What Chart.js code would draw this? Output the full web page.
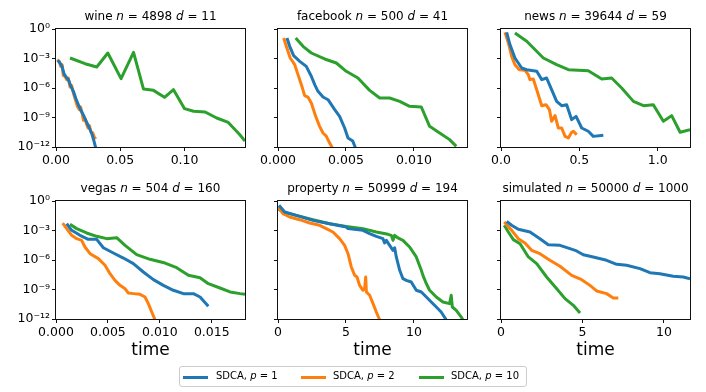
<!DOCTYPE html>
<html><head><meta charset="utf-8">
<script src="https://cdn.jsdelivr.net/npm/chart.js@4/dist/chart.umd.min.js"></script>
<style>
body{margin:0;width:706px;height:392px;background:#fff;position:relative;overflow:hidden;font-family:"DejaVu Sans",sans-serif;color:#000}
canvas{position:absolute}
.title{position:absolute;font-size:12px;line-height:14px;text-align:center;white-space:nowrap}
.xl{position:absolute;font-size:17px;line-height:20px;text-align:center}
#legend{position:absolute;left:179px;top:366px;width:346px;height:19px;border:1px solid #ccc;border-radius:3px;font-size:10px}
.sw{position:absolute;height:3px;width:25px;top:9px}
.lt{position:absolute;top:3px;line-height:12px;white-space:nowrap}
</style></head><body>
<script>
// ---------- data (time values, log10 of error values) ----------
const wineBlueT  = [0.0013,0.0031,0.0047,0.0062,0.0078,0.0096,0.0114,0.0135,0.0156,0.0177,0.0197,0.0218,0.0239,0.026,0.0281,0.0296,0.0309];
const wineBlueV  = [-3.19,-3.46,-3.8,-4.54,-4.88,-5.15,-5.76,-6.34,-7.12,-7.8,-8.37,-8.88,-9.49,-10.07,-10.75,-11.42,-12.1];
const wineOrangeT = [0.001,0.0026,0.0036,0.0047,0.0057,0.007,0.0083,0.0096,0.0109,0.0122,0.0135,0.0151,0.0166,0.0182,0.0192,0.0203,0.0213,0.0226,0.0239,0.0249,0.026,0.027,0.0286,0.0301,0.0312];
const wineOrangeV = [-3.12,-3.29,-3.8,-3.63,-4.75,-4.81,-5.15,-4.98,-5.9,-5.76,-6.51,-7.19,-7.86,-8.2,-7.93,-8.54,-9.29,-9.15,-9.73,-10.07,-9.83,-10.41,-10.58,-11.08,-10.98];
const wineGreenT = [0.0109,0.0226,0.0317,0.0403,0.0506,0.0603,0.068,0.0758,0.0844,0.0914,0.1,0.107,0.116,0.125,0.134,0.143,0.147];
const wineGreenV = [-2.95,-3.53,-3.86,-2.44,-5.05,-2.37,-6.1,-6.24,-6.95,-6.17,-8.1,-8.37,-8.44,-9.05,-9.5,-10.75,-11.4];

const fbBlueT = [0.00066,0.00086,0.00115,0.0016,0.00208,0.00245,0.0027,0.00294,0.00331,0.00368,0.00417,0.00453,0.0049,0.00515,0.0055,0.0057];
const fbBlueV = [-0.92,-1.76,-2.71,-3.29,-3.8,-4.81,-5.66,-6.34,-6.92,-7.19,-8.2,-8.88,-10.07,-11.08,-11.4,-12.1];
const fbOrangeT = [0.00042,0.00061,0.0009,0.00123,0.00147,0.00172,0.00196,0.0022,0.00245,0.00277,0.00306,0.00331,0.00355,0.0038,0.004];
const fbOrangeV = [-0.92,-1.76,-2.95,-3.63,-4.64,-5.66,-6.78,-6.92,-7.53,-8.88,-9.9,-10.58,-10.9,-11.6,-12.1];
const fbGreenT = [0.0013,0.00184,0.00245,0.00343,0.00429,0.00502,0.00588,0.00674,0.00748,0.00821,0.00895,0.00968,0.01054,0.01115,0.01189,0.01262,0.01311];
const fbGreenV = [-0.92,-1.76,-2.44,-3.05,-3.46,-4.3,-4.98,-6.24,-7.02,-7.02,-7.36,-7.86,-7.93,-9.9,-10.58,-11.25,-11.93];

const newsBlueT = [0.036,0.057,0.089,0.132,0.164,0.228,0.26,0.291,0.323,0.355,0.387,0.419,0.451,0.479,0.515,0.557,0.589,0.653];
const newsBlueV = [-0.34,-1.59,-2.95,-3.97,-4.14,-4.3,-5.15,-4.98,-6.17,-7.36,-7.8,-7.7,-9.22,-8.88,-10.07,-10.4,-10.92,-10.81];
const newsOrangeT = [0.0255,0.047,0.068,0.089,0.117,0.153,0.174,0.185,0.206,0.228,0.26,0.287,0.309,0.323,0.345,0.366,0.387,0.409,0.43,0.451,0.462,0.483];
const newsOrangeV = [-0.34,-1.42,-2.78,-3.63,-4.14,-4.2,-4.64,-5.15,-5.08,-6.17,-7.8,-7.7,-8.2,-9.39,-8.81,-10.07,-10.07,-10.92,-11.08,-10.5,-10.4,-10.75];
const newsGreenT = [0.089,0.164,0.27,0.355,0.43,0.557,0.643,0.706,0.77,0.845,0.909,0.972,1.036,1.089,1.143,1.206];
const newsGreenV = [-0.41,-1.25,-2.95,-3.63,-4.14,-4.24,-5.08,-4.98,-6.0,-7.36,-7.8,-7.7,-9.39,-8.81,-10.5,-10.24];

const vegasBlueT = [0.00103,0.00151,0.00231,0.00311,0.00392,0.00456,0.00552,0.00649,0.00745,0.00841,0.00938,0.01034,0.0113,0.01227,0.01323,0.01387,0.01467];
const vegasBlueV = [-2.31,-2.98,-3.49,-3.9,-3.9,-4.75,-5.29,-5.8,-6.37,-7.22,-8.0,-8.58,-9.08,-9.42,-9.42,-9.76,-10.71];
const vegasOrangeT = [0.00064,0.00103,0.00151,0.002,0.00247,0.00279,0.00328,0.00408,0.00472,0.0052,0.00568,0.00617,0.00665,0.00697,0.00745,0.00809,0.00857,0.00889,0.00922,0.00954];
const vegasOrangeV = [-2.24,-2.81,-3.49,-3.83,-4.0,-4.68,-5.36,-5.86,-6.54,-7.39,-8.07,-8.58,-8.92,-9.36,-9.42,-9.49,-9.76,-10.44,-11.29,-12.1];
const vegasGreenT = [0.00135,0.00199,0.00295,0.00392,0.00488,0.00584,0.00665,0.00777,0.00905,0.0105,0.01162,0.01275,0.01387,0.01467,0.01579,0.01676,0.01773,0.0182];
const vegasGreenV = [-2.37,-2.81,-3.25,-3.59,-3.83,-3.73,-4.51,-5.46,-5.93,-6.31,-6.78,-7.56,-7.8,-8.41,-8.85,-9.25,-9.42,-9.49];

const propBlueT = [0.07,0.49,1.35,2.57,3.8,5.02,5.15,6.25,6.74,7.23,7.72,7.84,7.97,8.21,8.46,8.58,8.7,8.95,9.19,9.44,9.8,10.17,10.54,10.91,11.27,11.64,12.0,12.38];
const propBlueV = [-0.44,-1.12,-1.46,-1.97,-2.31,-2.64,-2.81,-2.98,-3.32,-3.59,-3.83,-4.27,-4.0,-4.51,-5.02,-4.75,-5.69,-7.05,-7.9,-8.07,-8.24,-9.08,-9.25,-9.76,-10.27,-10.78,-11.29,-12.1];
const propOrangeT = [0.0,0.37,0.86,1.59,2.33,3.06,3.55,4.04,4.53,4.9,5.15,5.39,5.64,5.81,6.0,6.25,6.37,6.45,6.5,6.74,6.99,7.23,7.48];
const propOrangeV = [-0.61,-1.29,-1.63,-1.9,-2.24,-2.47,-2.81,-3.15,-3.83,-4.51,-5.36,-6.71,-7.56,-7.73,-8.58,-9.08,-8.92,-7.73,-9.25,-9.59,-10.44,-11.29,-12.1];
const propGreenT = [0.0,0.37,1.35,2.57,3.8,5.02,6.25,7.23,8.09,8.33,8.46,8.58,8.82,9.19,9.68,10.17,10.54,10.66,10.91,11.15,11.64,12.13,12.62,12.74,12.82,13.11,13.48,13.6];
const propGreenV = [-0.78,-1.12,-1.46,-1.9,-2.31,-2.58,-2.81,-3.15,-3.39,-3.49,-4.0,-3.49,-3.76,-4.0,-4.68,-5.69,-7.05,-7.56,-8.41,-9.08,-9.76,-10.27,-10.44,-9.59,-10.78,-11.12,-11.8,-12.1];

const simBlueT = [0.35,0.65,1.06,1.78,2.39,2.9,3.62,4.23,4.64,5.05,5.66,6.48,7.1,7.71,8.53,9.14,9.75,10.57,11.19,11.6];
const simBlueV = [-2.07,-2.47,-2.88,-3.15,-3.83,-4.44,-4.51,-4.85,-5.08,-5.46,-5.69,-6.03,-6.44,-6.54,-6.88,-7.29,-7.39,-7.66,-7.73,-7.9];
const simOrangeT = [0.2,0.65,1.06,1.47,1.88,2.39,3.0,3.62,4.34,4.95,5.46,5.87,6.48,6.89,7.2];
const simOrangeV = [-2.14,-2.98,-3.83,-4.27,-5.02,-5.36,-6.03,-6.64,-7.56,-8.0,-8.58,-9.15,-9.42,-9.86,-9.86];
const simGreenT = [0.2,0.45,0.76,1.17,1.68,2.19,2.8,3.42,3.93,4.44,4.85];
const simGreenV = [-2.47,-3.15,-3.93,-4.34,-5.69,-6.37,-7.73,-8.92,-9.93,-10.61,-11.39];

// tick values / labels
const yTickValues = [1, 1e-3, 1e-6, 1e-9, 1e-12];
const yTickLabels = ['10\u2070','10\u207B\u00B3','10\u207B\u2076','10\u207B\u2079','10\u207B\u00B9\u00B2'];
const wineTicks = [0, 0.05, 0.10];       const wineTickLabels = ['0.00','0.05','0.10'];
const fbTicks = [0, 0.005, 0.010];       const fbTickLabels = ['0.000','0.005','0.010'];
const newsTicks = [0, 0.5, 1.0];         const newsTickLabels = ['0.0','0.5','1.0'];
const vegasTicks = [0, 0.005, 0.010, 0.015]; const vegasTickLabels = ['0.000','0.005','0.010','0.015'];
const propTicks = [0, 5, 10];            const propTickLabels = ['0','5','10'];
const simTicks = [0, 5, 10];             const simTickLabels = ['0','5','10'];

const seriesNames = ['SDCA, p = 1','SDCA, p = 2','SDCA, p = 10'];
const COLORS = ['#1f77b4','#ff7f0e','#2ca02c'];

// ---------- layout ----------
const COLS = [56, 278, 501], ROWS = [29, 201];
const W = 189, H = 118, YW = 54, XH = 28, PT = 10, PR = 6;

const panels = [
 {name:'wine', n:'4898', d:'11', xMax:0.147, ticks:wineTicks, labels:wineTickLabels,
  s:[[wineBlueT,wineBlueV],[wineOrangeT,wineOrangeV],[wineGreenT,wineGreenV]]},
 {name:'facebook', n:'500', d:'41', xMax:0.0139, ticks:fbTicks, labels:fbTickLabels,
  s:[[fbBlueT,fbBlueV],[fbOrangeT,fbOrangeV],[fbGreenT,fbGreenV]]},
 {name:'news', n:'39644', d:'59', xMax:1.206, ticks:newsTicks, labels:newsTickLabels,
  s:[[newsBlueT,newsBlueV],[newsOrangeT,newsOrangeV],[newsGreenT,newsGreenV]]},
 {name:'vegas', n:'504', d:'160', xMax:0.0182, ticks:vegasTicks, labels:vegasTickLabels,
  s:[[vegasBlueT,vegasBlueV],[vegasOrangeT,vegasOrangeV],[vegasGreenT,vegasGreenV]]},
 {name:'property', n:'50999', d:'194', xMax:13.9, ticks:propTicks, labels:propTickLabels,
  s:[[propBlueT,propBlueV],[propOrangeT,propOrangeV],[propGreenT,propGreenV]]},
 {name:'simulated', n:'50000', d:'1000', xMax:11.6, ticks:simTicks, labels:simTickLabels,
  s:[[simBlueT,simBlueV],[simOrangeT,simOrangeV],[simGreenT,simGreenV]]},
];

const frame = {id:'frame', afterDraw(c){const a=c.chartArea,x=c.ctx;x.save();x.strokeStyle='#111';x.lineWidth=1;
  x.strokeRect(Math.round(a.left)-0.5,Math.round(a.top)-0.5,Math.round(a.right-a.left)+1,Math.round(a.bottom-a.top)+1);x.restore();}};

const tickFont = {family:'"DejaVu Sans"', size:12.5};

panels.forEach((p, k) => {
  const col = k % 3, row = Math.floor(k / 3);
  const L = COLS[col], T = ROWS[row];
  const cv = document.createElement('canvas');
  const cw = W + YW + PR, ch = H + PT + XH;
  cv.width = cw; cv.height = ch;
  cv.style.left = (L - YW) + 'px'; cv.style.top = (T - PT) + 'px';
  cv.style.width = cw + 'px'; cv.style.height = ch + 'px';
  document.body.appendChild(cv);

  const t = document.createElement('div');
  t.className = 'title';
  t.style.left = L + 'px'; t.style.width = W + 'px'; t.style.top = (T - 20) + 'px';
  t.innerHTML = p.name + ' <i>n</i> = ' + p.n + ' <i>d</i> = ' + p.d;
  document.body.appendChild(t);

  if (row === 1) {
    const xl = document.createElement('div');
    xl.className = 'xl'; xl.textContent = 'time';
    xl.style.left = L + 'px'; xl.style.width = W + 'px'; xl.style.top = (T + H + 20) + 'px';
    document.body.appendChild(xl);
  }

  new Chart(cv.getContext('2d'), {
    type: 'line',
    data: { datasets: p.s.map((sr, i) => ({
      label: seriesNames[i],
      data: sr[0].map((tv, j) => ({x: tv, y: Math.pow(10, sr[1][j])})),
      borderColor: COLORS[i], borderWidth: 3, pointRadius: 0, tension: 0, fill: false,
      borderJoinStyle: 'round', borderCapStyle: 'butt'
    }))},
    options: {
      responsive: false, animation: false, devicePixelRatio: 1,
      layout: {padding: {top: PT, right: PR, left: 0, bottom: 0}},
      plugins: {legend: {display: false}, tooltip: {enabled: false}},
      scales: {
        x: {type: 'linear', min: 0, max: p.xMax,
          afterBuildTicks: s => { s.ticks = p.ticks.map(v => ({value: v})); },
          afterFit: s => { s.height = XH; },
          ticks: {callback: (v) => p.labels[p.ticks.indexOf(v)], font: tickFont, color: '#000', padding: 2, maxRotation: 0, autoSkip: false},
          grid: {drawOnChartArea: false, drawTicks: true, tickLength: 4, color: '#111'},
          border: {display: false}},
        y: {type: 'logarithmic', min: 1e-12, max: 1,
          afterBuildTicks: s => { s.ticks = yTickValues.slice().reverse().map(v => ({value: v})); },
          afterFit: s => { s.width = YW; },
          ticks: {display: col === 0, callback: (v) => yTickLabels[yTickValues.indexOf(v)], font: tickFont, color: '#000', padding: 2, autoSkip: false},
          grid: {drawOnChartArea: false, drawTicks: true, tickLength: 4, color: '#111'},
          border: {display: false}}
      }
    },
    plugins: [frame]
  });
});
</script>
<div id="legend">
  <div class="sw" style="left:3px;background:#1f77b4"></div><div class="lt" style="left:36px">SDCA, <i>p</i> = 1</div>
  <div class="sw" style="left:121px;background:#ff7f0e"></div><div class="lt" style="left:153px">SDCA, <i>p</i> = 2</div>
  <div class="sw" style="left:239px;background:#2ca02c"></div><div class="lt" style="left:271px">SDCA, <i>p</i> = 10</div>
</div>
</body></html>
